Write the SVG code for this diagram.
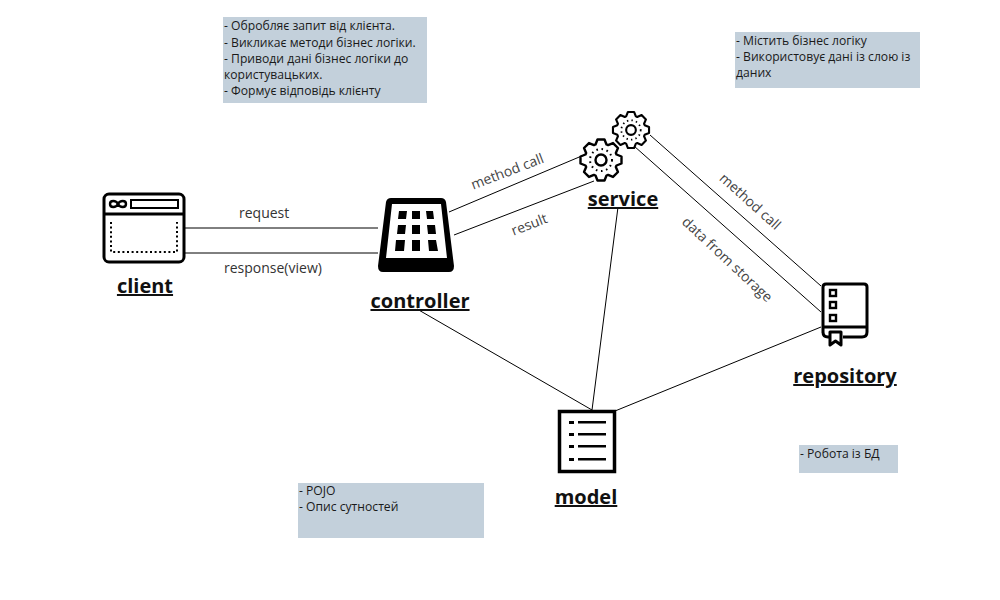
<svg xmlns="http://www.w3.org/2000/svg" width="1000" height="600" viewBox="0 0 1000 600">
<style>
text{font-family:"Open Sans","DejaVu Sans",sans-serif}
.note{fill:#c3d0db}
.nt{font-size:12.15px;fill:#1a1a1a}
.title{font-size:20px;font-weight:700;fill:#111;text-decoration:underline;text-anchor:middle}
.el{font-size:14px;fill:#333}
.elg{font-size:14px;fill:#444;text-anchor:middle}
.c{stroke:#000;stroke-width:1;fill:none}
.ic{fill:none;stroke:#000;stroke-width:3;stroke-linejoin:round}
.gear{fill:none;stroke:#000;stroke-width:2.400;stroke-linejoin:round}
.f{fill:#000}
</style>
<defs>
<g id="gearshape">
<path class="gear" d="M-5.500-15.500L-3.500-20.500L3.500-20.500L5.500-15.500L7.070-14.850L12.020-16.970L16.970-12.020L14.850-7.070L15.500-5.500L20.500-3.500L20.500 3.500L15.500 5.500L14.850 7.070L16.970 12.020L12.020 16.970L7.070 14.850L5.500 15.500L3.500 20.500L-3.500 20.500L-5.500 15.500L-7.070 14.850L-12.020 16.970L-16.970 12.020L-14.850 7.070L-15.500 5.500L-20.500 3.500L-20.500-3.500L-15.500-5.500L-14.850-7.070L-16.970-12.020L-12.020-16.970L-7.070-14.850Z"/>
<circle r="5.500" fill="none" stroke="#000" stroke-width="2.400"/>
<circle r="11" fill="none" stroke="#000" stroke-width="2" stroke-dasharray="1.600 3.600"/>
</g>
</defs>
<rect width="1000" height="600" fill="#fff"/>
<g id="connectors">
<line class="c" x1="449" y1="212" x2="584" y2="155"/>
<line class="c" x1="454" y1="235" x2="594" y2="181"/>
<line class="c" x1="650" y1="135" x2="821" y2="286"/>
<line class="c" x1="634" y1="146" x2="821" y2="312"/>
<line class="c" x1="185" y1="228" x2="378" y2="228"/>
<line class="c" x1="185" y1="253" x2="378" y2="253"/>
<line class="c" x1="417" y1="309" x2="592" y2="410"/>
<line class="c" x1="618" y1="207" x2="592" y2="410"/>
<line class="c" x1="615" y1="411" x2="821" y2="327"/>
</g>
<g id="edge-labels">
<text class="el" x="239" y="218">request</text>
<text class="el" x="224" y="273">response(view)</text>
<text class="elg" transform="translate(509 176) rotate(-21)">method call</text>
<text class="elg" transform="translate(531 229) rotate(-21)">result</text>
<text class="elg" transform="translate(747 205) rotate(42)">method call</text>
<text class="elg" transform="translate(724 263) rotate(43)">data from storage</text>
</g>
<g id="client">
<rect class="ic" x="104" y="194" width="80" height="68" rx="5"/>
<line class="ic" x1="104" y1="214" x2="184" y2="214"/>
<rect x="131" y="200" width="47" height="8" fill="none" stroke="#000" stroke-width="2"/>
<path d="M118 204c-2-4-8-4-8 0s6 4 8 0c2-4 8-4 8 0s-6 4-8 0z" fill="none" stroke="#000" stroke-width="2.400"/>
<path d="M111 222V252H177V222" fill="none" stroke="#000" stroke-width="2" stroke-dasharray="2 2.600"/>
<text class="title" x="145" y="293">client</text>
</g>
<g id="controller">
<path class="f" fill-rule="evenodd" d="M391 198H441Q445 198 446 202L454 266Q454 272 449 272H383Q378 272 378 266L386 202Q387 198 391 198ZM392 204L386 258H447L441 204Z"/>
<path class="f" d="M399 211H407L406 219H398ZM412 211H420V219H412ZM426 211H433L434 219H427ZM398 225H406L405 234H397ZM412 225H420V234H412ZM427 225H435L436 234H428ZM396 240H405L404 251H395ZM412 240H420V251H412ZM428 240H436L438 251H429Z"/>
<text class="title" x="420" y="308">controller</text>
</g>
<g id="service">
<use href="#gearshape" transform="translate(601 160)"/>
<use href="#gearshape" transform="translate(631 130) scale(.88)"/>
<text class="title" x="623" y="206">service</text>
</g>
<g id="repository">
<path class="ic" d="M823 333V287Q823 284 826 284H864Q867 284 867 287V332Q867 337 862 337H843M829 337H828Q823 337 823 332"/>
<line class="ic" x1="823" y1="327" x2="867" y2="327"/>
<path class="ic" d="M830 332H841V345L835.500 341L830 345Z"/>
<rect x="830" y="290" width="6" height="6" fill="none" stroke="#000" stroke-width="2.400"/>
<rect x="830" y="302" width="6" height="6" fill="none" stroke="#000" stroke-width="2.400"/>
<rect x="830" y="315" width="6" height="6" fill="none" stroke="#000" stroke-width="2.400"/>
<text class="title" x="845" y="383">repository</text>
</g>
<g id="model">
<rect x="559.500" y="411.500" width="55" height="60" fill="none" stroke="#000" stroke-width="3.500"/>
<path class="f" d="M569 421h5v3h-5zM578 421h28v2.500h-28zM569 433h5v3h-5zM578 433h28v2.500h-28zM569 445h5v3h-5zM578 445h28v2.500h-28zM569 458h5v3h-5zM578 458h28v2.500h-28z"/>
<text class="title" x="586" y="504">model</text>
</g>
<g id="note-controller">
<rect class="note" x="223" y="17" width="204" height="86"/>
<text class="nt" x="224" y="30">- Обробляє запит від клієнта.</text>
<text class="nt" x="224" y="47">- Викликає методи бізнес логіки.</text>
<text class="nt" x="224" y="63">- Приводи дані бізнес логіки до</text>
<text class="nt" x="224" y="79">користувацьких.</text>
<text class="nt" x="224" y="95">- Формує відповідь клієнту</text>
</g>
<g id="note-service">
<rect class="note" x="735" y="32" width="185" height="56"/>
<text class="nt" x="736" y="45">- Містить бізнес логіку</text>
<text class="nt" x="736" y="61">- Використовує дані із слою із</text>
<text class="nt" x="736" y="77">даних</text>
</g>
<g id="note-repository">
<rect class="note" x="799" y="445" width="99" height="28"/>
<text class="nt" x="800" y="458">- Робота із БД</text>
</g>
<g id="note-model">
<rect class="note" x="298" y="483" width="186" height="55"/>
<text class="nt" x="299" y="495">- POJO</text>
<text class="nt" x="299" y="511">- Опис сутностей</text>
</g>
</svg>
